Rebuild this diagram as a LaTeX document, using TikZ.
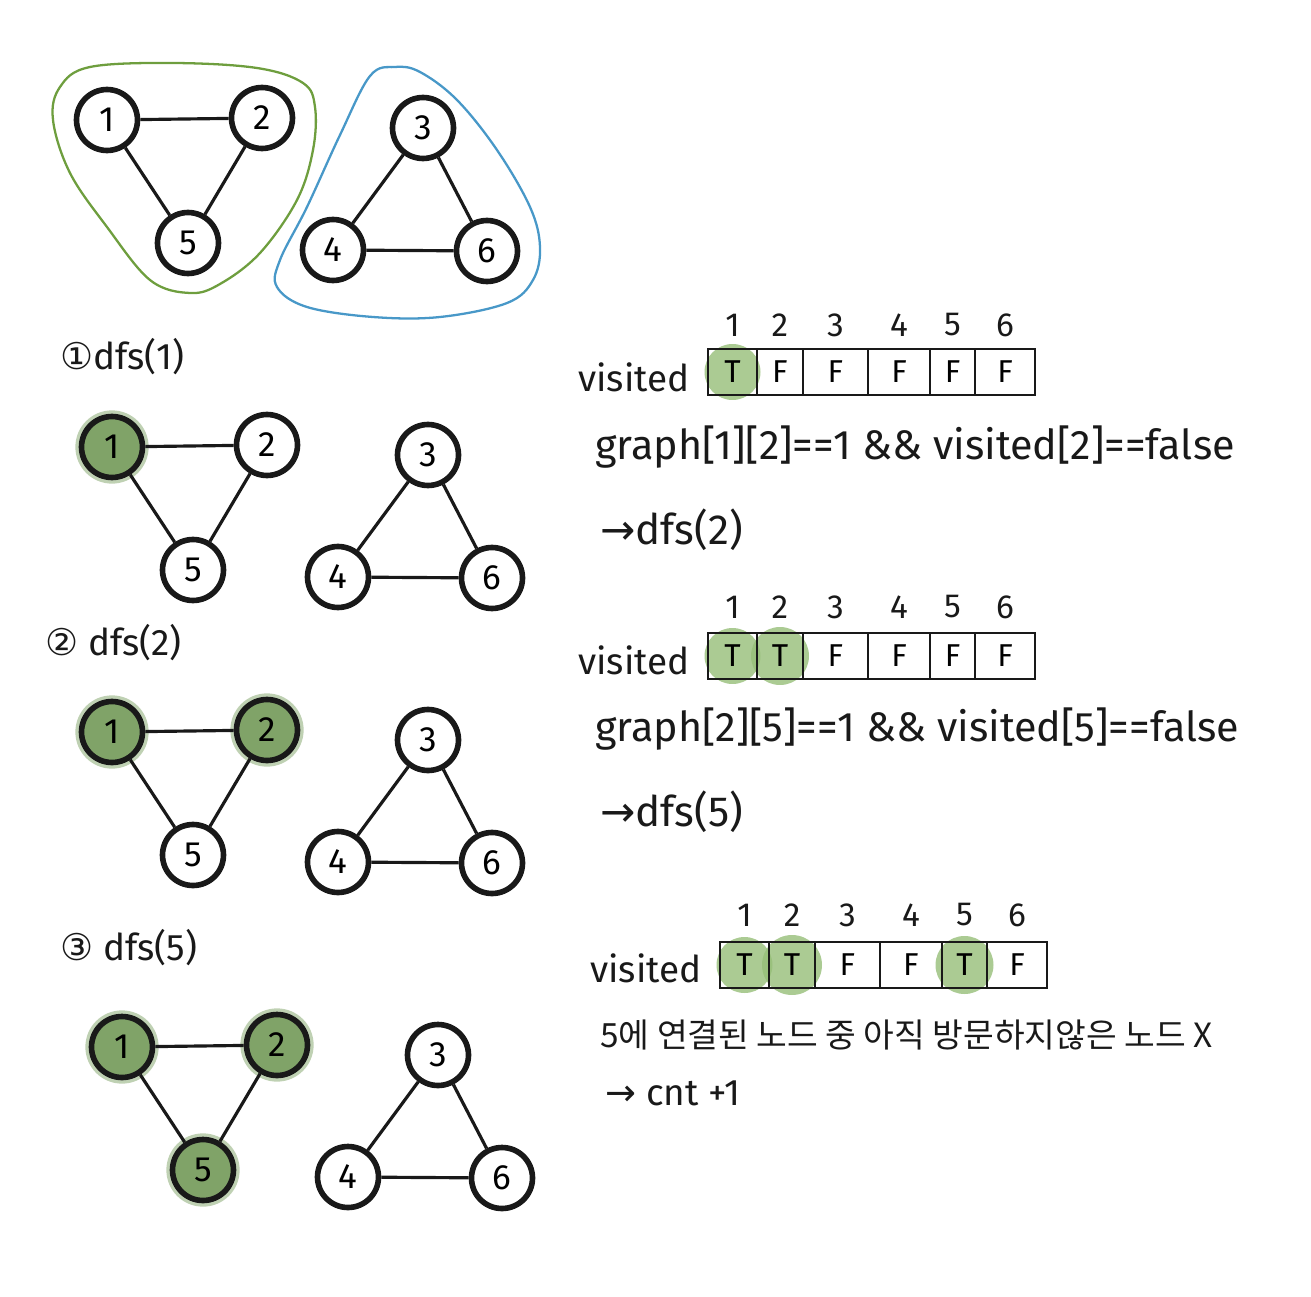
\documentclass[tikz,border=0pt]{standalone}
\usepackage{fontspec}
\setmainfont{Fira Sans}
\newfontfamily\kr{Noto Sans CJK KR}
\newfontfamily\dv{DejaVu Sans}
\usetikzlibrary{backgrounds}
\definecolor{nodegreen}{RGB}{128,163,104}
\definecolor{hlgreen}{RGB}{150,190,120}
\definecolor{blobgreen}{RGB}{110,158,62}
\definecolor{blobblue}{RGB}{72,152,200}
\definecolor{ink}{RGB}{25,25,25}
\tikzset{
  gnode/.style={circle, draw=ink, line width=3.2pt, minimum size=1.22cm, inner sep=0pt, font=\fontsize{20}{24}\selectfont},
  gfill/.style={gnode, fill=nodegreen, preaction={draw=nodegreen, line width=7pt, opacity=0.5}},
  edge/.style={draw=ink, line width=1.8pt},
  lbl/.style={anchor=west, inner sep=0pt, text=ink, font=\fontsize{21}{25}\selectfont},
  biglbl/.style={anchor=west, inner sep=0pt, text=ink, font=\fontsize{24}{28}\selectfont},
  codelbl/.style={anchor=west, inner sep=0pt, text=ink, font=\fontsize{23.5}{28}\selectfont},
  klbl/.style={anchor=west, inner sep=0pt, text=ink, font=\kr\fontsize{19}{23}\selectfont},
  cellbox/.style={draw=ink, line width=1.6pt, minimum height=0.92cm, inner sep=0pt, font=\fontsize{18}{22}\selectfont},
  idx/.style={inner sep=0pt, text=ink, font=\fontsize{19}{22}\selectfont},
  halo/.style={fill=hlgreen, opacity=0.8}
}
\newcommand{\drawgraph}[6]{%
\begin{scope}[shift={(#2,#3)}]
\node[#4] (#1n1) at (107,120) {1};
\node[#5] (#1n2) at (262,118) {2};
\node[#6] (#1n5) at (188,243) {5};
\node[gnode] (#1n3) at (423,128) {3};
\node[gnode] (#1n4) at (333,250) {4};
\node[gnode] (#1n6) at (487,251) {6};
\draw[edge] (#1n1)--(#1n2) (#1n1)--(#1n5) (#1n2)--(#1n5)
            (#1n3)--(#1n4) (#1n3)--(#1n6) (#1n4)--(#1n6);
\end{scope}}
\begin{document}
\begin{tikzpicture}[x=0.02cm, y=-0.02cm]
\useasboundingbox (0,0) rectangle (1311,1297);

% ---- top graph with component outlines
\drawgraph{t}{0}{0}{gnode}{gnode}{gnode}
\draw[blobgreen, line width=1.3pt] plot[smooth cycle, tension=0.6] coordinates {
 (60,87) (90,67) (173,63) (257,68) (303,83) (315,107) (313,150) (297,200) (260,253)
 (220,284) (190,293) (150,280) (107,227) (70,173) (53,120)};
\draw[blobblue, line width=1.3pt] plot[smooth cycle, tension=0.6] coordinates {
 (370,76) (395,67) (420,72) (457,100) (497,150) (530,207) (540,247) (533,280) (507,303)
 (440,317) (373,317) (307,307) (277,287) (280,260) (307,207) (340,135)};

% ---- step 1
\node[lbl] (s1) at (60,357) {{\dv ①}dfs(1)};
\drawgraph{a}{5}{327}{gfill}{gnode}{gnode}
\node[lbl] (v1) at (578,377) {visited};
\foreach \i/\cx/\w/\v/\n in {1/732.5/49/T/1, 2/780/46/F/2, 3/835.5/65/F/3, 4/899/62/F/4, 5/952.5/45/F/5, 6/1005/60/F/6}{
  \node[cellbox, minimum width=\w*0.02cm] (r1c\i) at (\cx,372) {\v};
  \node[idx] (r1i\i) at (\cx,325) {\n};
}
\begin{pgfonlayer}{background}
  \fill[halo] (r1c1) circle (0.56cm);
\end{pgfonlayer}
\node[codelbl] (g1) at (595,447) {graph[1][2]==1 \&\& visited[2]==false};
\node[biglbl] (d1) at (600,530) {{\dv →}dfs(2)};

% ---- step 2
\node[lbl] (s2) at (45,643) {{\dv ②} dfs(2)};
\drawgraph{b}{5}{612}{gfill}{gfill}{gnode}
\node[lbl] (v2) at (578,660) {visited};
\foreach \i/\cx/\w/\v/\n in {1/732.5/49/T/1, 2/780/46/T/2, 3/835.5/65/F/3, 4/899/62/F/4, 5/952.5/45/F/5, 6/1005/60/F/6}{
  \node[cellbox, minimum width=\w*0.02cm] (r2c\i) at (\cx,656) {\v};
  \node[idx] (r2i\i) at (\cx,607) {\n};
}
\begin{pgfonlayer}{background}
  \fill[halo] (r2c1) circle (0.56cm);
  \fill[halo] (r2c2) circle (0.58cm);
\end{pgfonlayer}
\node[codelbl] (g2) at (595,729) {graph[2][5]==1 \&\& visited[5]==false};
\node[biglbl] (d2) at (600,812) {{\dv →}dfs(5)};

% ---- step 3
\node[lbl] (s3) at (60,948) {{\dv ③} dfs(5)};
\drawgraph{c}{15}{927}{gfill}{gfill}{gfill}
\node[lbl] (v3) at (590,968) {visited};
\foreach \i/\cx/\w/\v/\n in {1/744.5/49/T/1, 2/792/46/T/2, 3/847.5/65/F/3, 4/911/62/F/4, 5/964.5/45/T/5, 6/1017/60/F/6}{
  \node[cellbox, minimum width=\w*0.02cm] (r3c\i) at (\cx,965) {\v};
  \node[idx] (r3i\i) at (\cx,915) {\n};
}
\begin{pgfonlayer}{background}
  \fill[halo] (r3c1) circle (0.56cm);
  \fill[halo] (r3c2) circle (0.6cm);
  \fill[halo] (r3c5) circle (0.58cm);
\end{pgfonlayer}
\node[klbl] (k3) at (600,1035) {5에 연결된 노드 중 아직 방문하지않은 노드 X};
\node[lbl] (d3) at (605,1093) {{\dv →} cnt +1};
\end{tikzpicture}
\end{document}
